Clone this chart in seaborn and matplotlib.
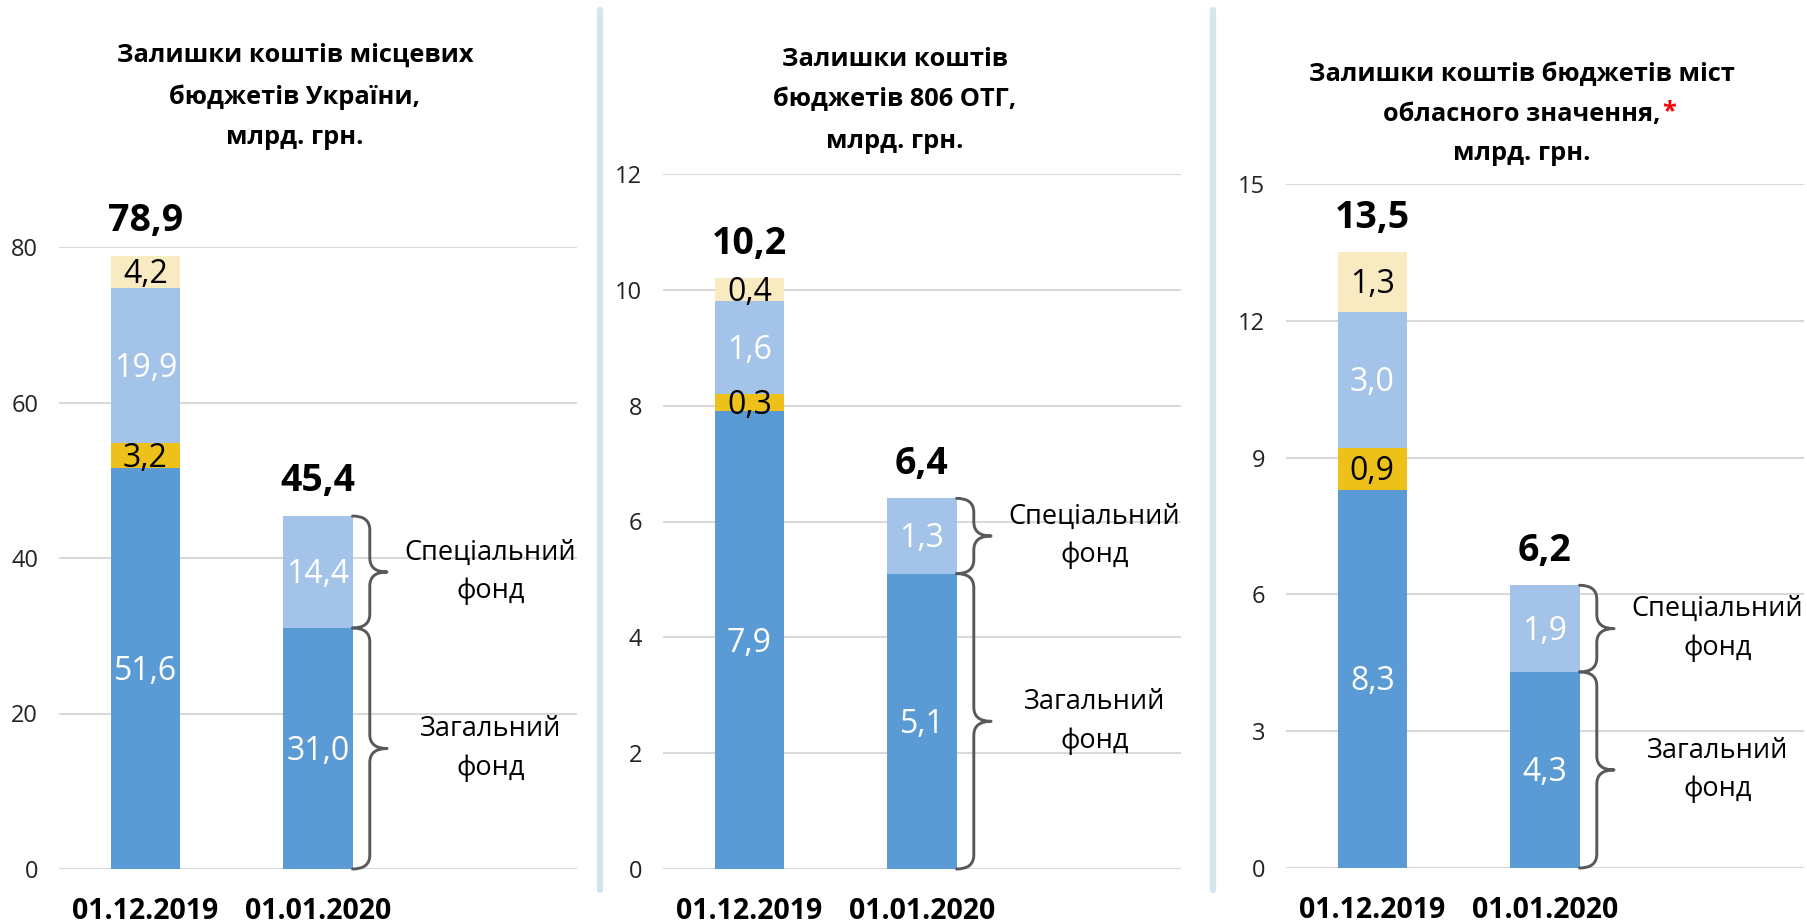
import numpy as np
import pandas as pd
import seaborn as sns
import matplotlib.pyplot as plt
from matplotlib.path import Path
from matplotlib.patches import PathPatch
from matplotlib.lines import Line2D

# --- data ---------------------------------------------------------------
dates = ["01.12.2019", "01.01.2020"]
slots = dates + [""]          # third empty slot holds the brace labels

layers = ["zf_main", "zf_extra", "sf_main", "sf_extra"]
layer_colors = {"zf_main": "#5B9BD5", "zf_extra": "#EEC11A",
                "sf_main": "#A4C3E8", "sf_extra": "#F9EBC1"}
label_colors = {"zf_main": "white", "zf_extra": "black",
                "sf_main": "white", "sf_extra": "black"}

ua_zf_main = [51.6, 31.0]
ua_zf_extra = [3.2, 0.0]
ua_sf_main = [19.9, 14.4]
ua_sf_extra = [4.2, 0.0]
ua_total = [78.9, 45.4]

otg_zf_main = [7.9, 5.1]
otg_zf_extra = [0.3, 0.0]
otg_sf_main = [1.6, 1.3]
otg_sf_extra = [0.4, 0.0]
otg_total = [10.2, 6.4]

city_zf_main = [8.3, 4.3]
city_zf_extra = [0.9, 0.0]
city_sf_main = [3.0, 1.9]
city_sf_extra = [1.3, 0.0]
city_total = [13.5, 6.2]

titles = [
    ["Залишки коштів місцевих", "бюджетів України,", "млрд. грн."],
    ["Залишки коштів", "бюджетів 806 ОТГ,", "млрд. грн."],
    ["Залишки коштів бюджетів міст", "обласного значення,", "млрд. грн."],
]
yticks = [np.arange(0, 81, 20), np.arange(0, 13, 2), np.arange(0, 16, 3)]
fund_labels = ["Спеціальний\nфонд", "Загальний\nфонд"]

# --- style --------------------------------------------------------------
sns.set_theme(style="white")
plt.rcParams["font.family"] = ["Open Sans", "DejaVu Sans"]

FIG_W, FIG_H = 1808, 924
fig = plt.figure(figsize=(FIG_W / 100, FIG_H / 100), dpi=100)
rects = [(59, 869, 247), (663, 869, 174), (1286, 868, 184)]   # left, bottom, top (px)
title_pos = [(295, [55, 97, 137]), (895, [60, 100, 141]), (1522, [75, 114, 153])]
GRAY = "#595959"


def make_df(zf_main, zf_extra, sf_main, sf_extra):
    rows = []
    vals = dict(zf_main=zf_main, zf_extra=zf_extra, sf_main=sf_main, sf_extra=sf_extra)
    for i, d in enumerate(dates):
        bottom = 0.0
        for lay in layers:
            v = vals[lay][i]
            rows.append(dict(date=d, layer=lay, value=v, bottom=bottom))
            bottom += v
    return pd.DataFrame(rows)


def brace(ax, x0, y0, y1, w, r):
    xm = x0 + w / 2
    ym = (y0 + y1) / 2
    verts = [(x0, y1), (xm, y1), (xm, y1 - r), (xm, ym + r), (xm, ym), (x0 + w, ym),
             (xm, ym), (xm, ym - r), (xm, y0 + r), (xm, y0), (x0, y0)]
    codes = [Path.MOVETO, Path.CURVE3, Path.CURVE3, Path.LINETO, Path.CURVE3, Path.CURVE3,
             Path.CURVE3, Path.CURVE3, Path.LINETO, Path.CURVE3, Path.CURVE3]
    ax.add_patch(PathPatch(Path(verts, codes), fill=False, edgecolor=GRAY, lw=2.1,
                           capstyle="round", joinstyle="round", clip_on=False))


panels = [
    (make_df(ua_zf_main, ua_zf_extra, ua_sf_main, ua_sf_extra), ua_total),
    (make_df(otg_zf_main, otg_zf_extra, otg_sf_main, otg_sf_extra), otg_total),
    (make_df(city_zf_main, city_zf_extra, city_sf_main, city_sf_extra), city_total),
]

for k, ((df, total), (left, bot, top), ticks) in enumerate(zip(panels, rects, yticks)):
    ax = fig.add_axes([left / FIG_W, 1 - bot / FIG_H, 518 / FIG_W, (bot - top) / FIG_H])
    for lay in layers:
        sub = df[df.layer == lay]
        sns.barplot(data=sub, x="date", y="value", order=slots, color=layer_colors[lay],
                    saturation=1, width=0.4, errorbar=None, linewidth=0,
                    bottom=sub["bottom"].values, ax=ax)
        for i, row in enumerate(sub.itertuples()):
            if row.value > 0:
                ax.annotate(f"{row.value:.1f}".replace(".", ","),
                            xy=(i, row.bottom + row.value / 2), xytext=(0, -2),
                            textcoords="offset points", ha="center", va="center",
                            fontsize=23, color=label_colors[lay])
    ymax = ticks[-1]
    ax.set_ylim(0, ymax)
    ax.set_xlim(-0.5, 2.5)
    ax.set_yticks(ticks)
    ax.set_yticklabels([str(t) for t in ticks], fontsize=17, color="#222222")
    ax.set_xticks(range(3))
    ax.set_xticklabels(slots, fontsize=20.5, fontweight="bold", color="black")
    ax.tick_params(axis="y", length=0, pad=15)
    ax.tick_params(axis="x", length=0, pad=20)
    ax.set_xlabel("")
    ax.set_ylabel("")
    ax.grid(axis="y", color="#D9D9D9", lw=1.5)
    ax.set_axisbelow(True)
    for s in ax.spines.values():
        s.set_visible(False)

    # totals above bars
    for i, t in enumerate(total):
        ax.annotate(f"{t:.1f}".replace(".", ","), xy=(i, t), xytext=(0, 25),
                    textcoords="offset points", ha="center", va="center",
                    fontsize=27, fontweight="bold", color="black", annotation_clip=False)

    # braces and fund labels for the second date
    r = 14 * ymax / (bot - top)
    zf = df[(df.date == dates[1]) & df.layer.isin(["zf_main", "zf_extra"])].value.sum()
    sf = df[(df.date == dates[1]) & df.layer.isin(["sf_main", "sf_extra"])].value.sum()
    brace(ax, 1.2, zf, zf + sf, 0.2, r)
    brace(ax, 1.2, 0, zf, 0.2, r)
    ax.text(2.0, zf + sf / 2, fund_labels[0], ha="center", va="center", fontsize=19.5,
            linespacing=1.5, color="black")
    ax.text(2.0, zf / 2, fund_labels[1], ha="center", va="center", fontsize=19.5,
            linespacing=1.5, color="black")

    # titles
    cx, ys = title_pos[k]
    for j, (line, yy) in enumerate(zip(titles[k], ys)):
        t = fig.text(cx / FIG_W, 1 - yy / FIG_H, line, ha="center", va="center",
                     fontsize=18.3, fontweight="bold", color="black")
        if k == 2 and j == 1:
            fig.canvas.draw()
            ax.annotate("*", xy=(1, 1), xycoords=t, xytext=(1, 2), textcoords="offset points",
                        ha="left", va="top", fontsize=18.3, fontweight="bold", color="#FF0000")

# separators between panels
for xs in (600, 1213):
    fig.add_artist(Line2D([xs / FIG_W] * 2, [1 - 10 / FIG_H, 1 - 890 / FIG_H],
                          transform=fig.transFigure, color="#D5E5EE", lw=4.5))

fig.savefig("out.png", dpi=100)
